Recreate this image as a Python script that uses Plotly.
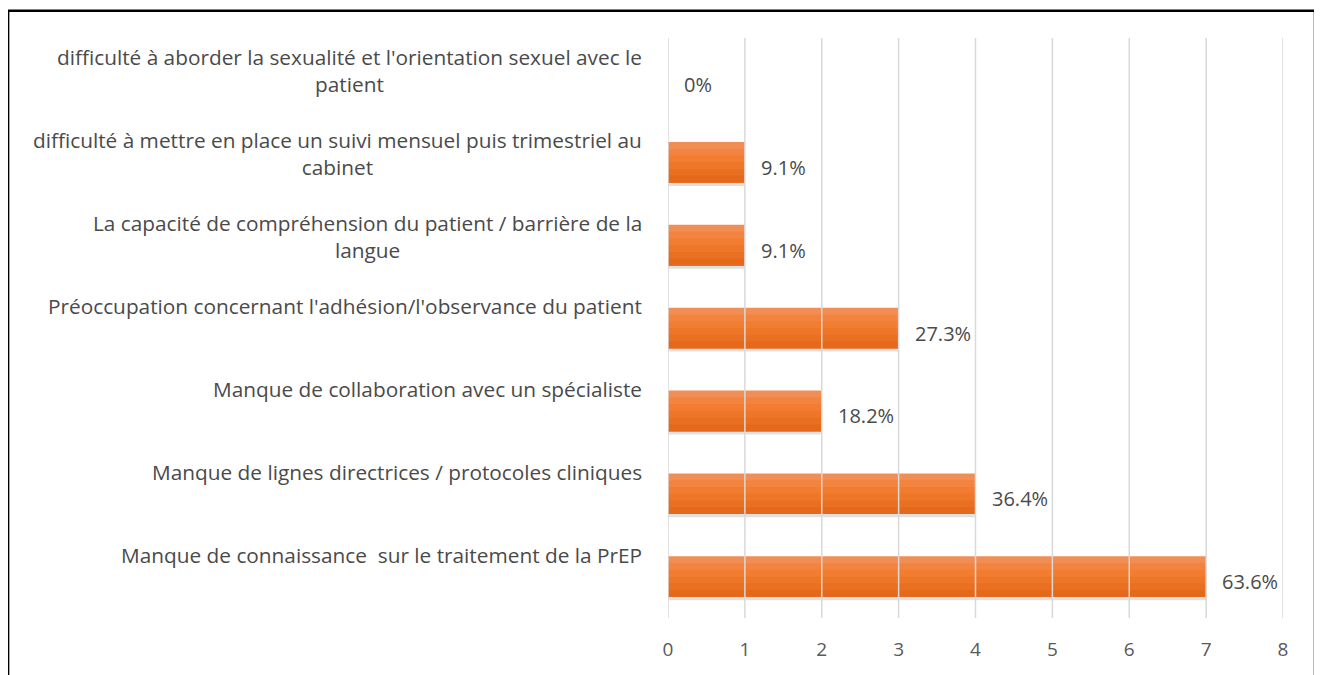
import plotly.graph_objects as go

# categories, top to bottom as in the picture
categories = [
    "difficulté à aborder la sexualité et l'orientation sexuel avec le<br>patient",
    "difficulté à mettre en place un suivi mensuel puis trimestriel au<br>cabinet",
    "La capacité de compréhension du patient / barrière de la<br>langue",
    "Préoccupation concernant l'adhésion/l'observance du patient",
    "Manque de collaboration avec un spécialiste",
    "Manque de lignes directrices / protocoles cliniques",
    "Manque de connaissance  sur le traitement de la PrEP",
]
counts = [0, 1, 1, 3, 2, 4, 7]
pct_labels = ["0%", "9.1%", "9.1%", "27.3%", "18.2%", "36.4%", "63.6%"]
x_ticks = [0, 1, 2, 3, 4, 5, 6, 7, 8]

FONT = "Open Sans"
TEXT = "#4A4A4A"
BAR_W = 0.49
# top-to-bottom shading of the bars (Excel gradient look)
BAND_COLORS = ["#F18E55", "#F2843F", "#F27D30", "#EE7628", "#E96F21", "#E4691B"]

fig = go.Figure()

# soft shadow just under each bar
fig.add_trace(go.Bar(
    x=counts, y=categories, orientation="h",
    width=BAR_W, offset=-BAR_W / 2 + 0.04,
    marker=dict(color="rgba(0,0,0,0.12)", line=dict(width=0)),
    hoverinfo="skip",
))

# each band runs from its top down to the bar bottom, so no seams show
band = BAR_W / len(BAND_COLORS)
for i, col in enumerate(BAND_COLORS):
    fig.add_trace(go.Bar(
        x=counts, y=categories, orientation="h",
        width=BAR_W - i * band, offset=-BAR_W / 2 + i * band,
        marker=dict(color=col, line=dict(width=0)),
        hoverinfo="skip",
    ))

annotations = []
# category labels, sitting a little above each bar
for cat in categories:
    annotations.append(dict(
        x=0, xref="paper", y=cat, yref="y",
        xanchor="right", yanchor="top", align="center",
        xshift=-24, yshift=38,
        text=cat, showarrow=False,
        font=dict(family=FONT, size=20.8, color=TEXT),
    ))
# data labels, right of bar end
for cat, n, lab in zip(categories, counts, pct_labels):
    annotations.append(dict(
        x=n, xref="x", y=cat, yref="y",
        xanchor="left", yanchor="middle",
        xshift=14, yshift=-5,
        text=lab, showarrow=False,
        font=dict(family=FONT, size=20, color=TEXT),
    ))

shapes = []
# vertical gridlines drawn over bars
for t in x_ticks:
    shapes.append(dict(
        type="line", xref="x", yref="paper",
        x0=t, x1=t, y0=0, y1=1,
        line=dict(color="#D9D9D9", width=1.5),
        layer="above",
    ))
# outer frame
shapes.append(dict(
    type="rect", xref="paper", yref="paper",
    x0=-1.073, x1=1.052, y0=-0.2, y1=1.047,
    line=dict(color="black", width=2.5),
    layer="below",
))

# page body has an 8px margin, so the figure is 8px smaller each way
fig.update_layout(
    width=1314,
    height=667,
    margin=dict(l=660, r=39, t=30, b=57),
    paper_bgcolor="white",
    plot_bgcolor="white",
    barmode="overlay",
    showlegend=False,
    annotations=annotations,
    shapes=shapes,
    xaxis=dict(
        range=[0, 8],
        tickvals=x_ticks,
        showgrid=False,
        zeroline=False,
        showline=False,
        ticks="",
        ticklabelstandoff=18,
        tickfont=dict(family=FONT, size=19, color="#595959"),
        fixedrange=True,
    ),
    yaxis=dict(
        autorange="reversed",
        showticklabels=False,
        showgrid=False,
        zeroline=False,
        showline=False,
        ticks="",
        fixedrange=True,
    ),
)

fig.write_html("out.html")
